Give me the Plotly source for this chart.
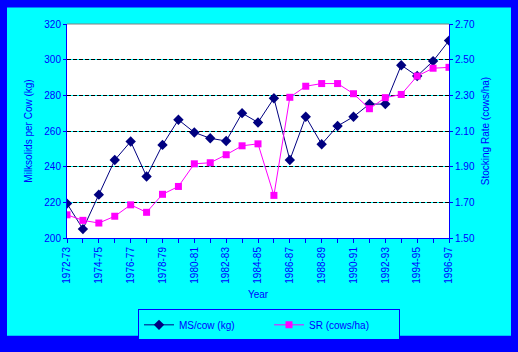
import plotly.graph_objects as go

years = ["1972-73", "1973-74", "1974-75", "1975-76", "1976-77", "1977-78", "1978-79",
         "1979-80", "1980-81", "1981-82", "1982-83", "1983-84", "1984-85", "1985-86",
         "1986-87", "1987-88", "1988-89", "1989-90", "1990-91", "1991-92", "1992-93",
         "1993-94", "1994-95", "1995-96", "1996-97"]
ms_cow = [219.3, 205.0, 224.3, 243.7, 254.1, 234.5, 252.2, 266.3, 259.2, 255.9, 254.4,
          270.0, 264.8, 278.4, 243.7, 268.0, 252.6, 262.8, 268.0, 275.1, 275.1, 296.9,
          290.8, 299.2, 310.7]
sr = [1.630, 1.599, 1.584, 1.622, 1.686, 1.644, 1.745, 1.789, 1.916, 1.922, 1.967,
      2.017, 2.028, 1.739, 2.289, 2.351, 2.366, 2.366, 2.309, 2.225, 2.287, 2.305,
      2.408, 2.452, 2.457]
tick_text = [y if i % 2 == 0 else "" for i, y in enumerate(years)]

BLUE = "#0000FF"
FONT = dict(family="Liberation Sans", size=10, color=BLUE)

fig = go.Figure()
fig.add_trace(go.Scatter(
    x=years, y=ms_cow, name="MS/cow (kg)", mode="lines+markers",
    line=dict(color="#000080", width=1),
    marker=dict(symbol="diamond", size=8, color="#000080"),
))
fig.add_trace(go.Scatter(
    x=years, y=sr, name="SR (cows/ha)", mode="lines+markers", yaxis="y2",
    line=dict(color="#FF00FF", width=1),
    marker=dict(symbol="square", size=7, color="#FF00FF"),
))

L, R, T, B = 67, 69, 24, 109
W, H = 518, 352
pw, ph = W - L - R, H - T - B


def px_x(p):
    return (p - L) / pw


def px_y(p):
    return (H - B - p) / ph


fig.update_layout(
    width=W, height=H,
    margin=dict(l=L, r=R, t=T, b=B),
    paper_bgcolor=BLUE,
    plot_bgcolor="white",
    font=FONT,
    showlegend=True,
    legend=dict(
        orientation="h", x=px_x(138), y=px_y(316), xanchor="left", yanchor="top",
        bgcolor="#00FFFF", bordercolor=BLUE, borderwidth=1,
        font=FONT, entrywidth=85, entrywidthmode="pixels",
    ),
    xaxis=dict(
        type="category", range=[0, len(years) - 1],
        tickmode="array", tickvals=years, ticktext=tick_text,
        tickangle=-90, ticks="outside", ticklen=4, tickcolor=BLUE,
        showline=True, linecolor=BLUE, linewidth=1,
        showgrid=False, tickfont=FONT,
        title=dict(text="Year", font=FONT, standoff=8),
    ),
    yaxis=dict(
        range=[200, 320], dtick=20, tick0=200,
        showline=True, linecolor=BLUE, linewidth=1,
        ticks="outside", ticklen=3, tickcolor=BLUE,
        showgrid=True, gridcolor="#00FFFF", gridwidth=1,
        zeroline=False, tickfont=FONT,
        title=dict(text="Milksolids per Cow (kg)", font=FONT, standoff=9),
    ),
    yaxis2=dict(
        range=[1.5, 2.7], dtick=0.2, tick0=1.5, tickformat=".2f",
        overlaying="y", side="right",
        showline=True, linecolor=BLUE, linewidth=1,
        ticks="outside", ticklen=3, tickcolor=BLUE,
        showgrid=True, gridcolor="black", gridwidth=1, griddash="4px,2px",
        zeroline=False, tickfont=FONT,
        title=dict(text="Stocking Rate (cows/ha)", font=FONT, standoff=8),
    ),
    shapes=[
        dict(type="rect", xref="paper", yref="paper", layer="below",
             x0=px_x(7), x1=px_x(511), y0=px_y(343), y1=px_y(7),
             fillcolor="#00FFFF", line=dict(width=0)),
        dict(type="rect", xref="paper", yref="paper", layer="below",
             x0=0, x1=1, y0=0, y1=1,
             fillcolor="white", line=dict(width=0)),
        dict(type="line", xref="paper", yref="paper", layer="above",
             x0=0, x1=1, y0=1, y1=1, line=dict(color="#808080", width=1)),
    ],
)

fig.write_html("out.html")
